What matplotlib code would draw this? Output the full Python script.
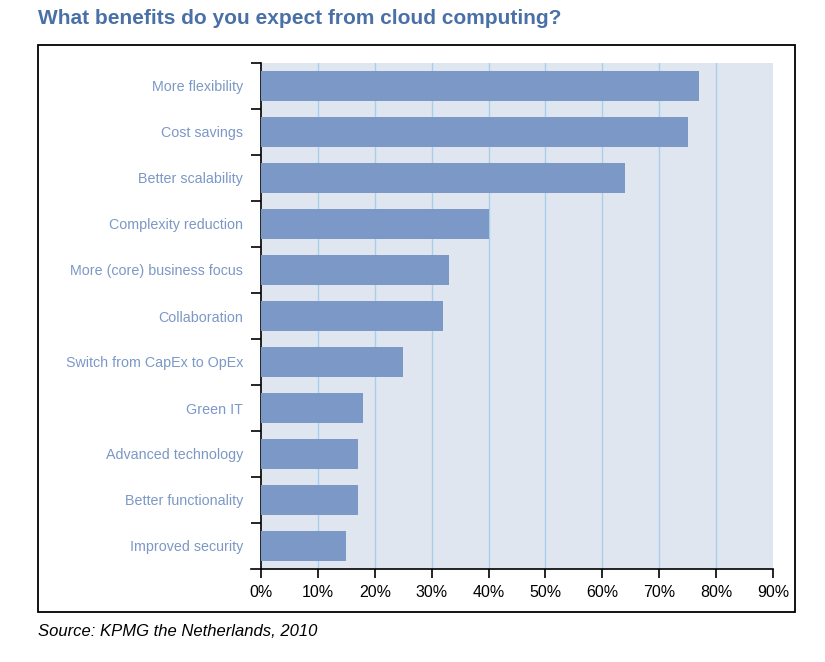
import matplotlib.pyplot as plt
import matplotlib.patches as mpatches
import numpy as np

categories = [
    "More flexibility",
    "Cost savings",
    "Better scalability",
    "Complexity reduction",
    "More (core) business focus",
    "Collaboration",
    "Switch from CapEx to OpEx",
    "Green IT",
    "Advanced technology",
    "Better functionality",
    "Improved security",
]
values = [77, 75, 64, 40, 33, 32, 25, 18, 17, 17, 15]
xticks = [0, 10, 20, 30, 40, 50, 60, 70, 80, 90]
xtick_labels = [f"{t}%" for t in xticks]

bar_color = "#7b98c6"
label_color = "#7b98c6"
bg_color = "#dfe6f0"
grid_color = "#a9cdea"
title_color = "#4a70a8"
font = ["Liberation Sans", "DejaVu Sans"]

fig = plt.figure(figsize=(8.25, 6.62), dpi=100)

# frame around the chart
fig.patches.append(mpatches.Rectangle((38 / 825, 1 - 612 / 662), 757 / 825, 567 / 662,
                                      transform=fig.transFigure, fill=False,
                                      edgecolor="black", linewidth=1.3))

ax = fig.add_axes([261 / 825, 1 - 569 / 662, 512 / 825, 506 / 662])
ax.set_facecolor(bg_color)

y = np.arange(len(categories))
ax.barh(y, values, height=0.65, color=bar_color, zorder=3)
ax.set_ylim(len(categories) - 0.5, -0.5)
ax.set_xlim(0, 90)

ax.set_xticks(xticks)
ax.set_xticklabels(xtick_labels, family=font, fontsize=11.5, color="black")
ax.tick_params(axis="x", length=6.5, width=1.2, pad=5, direction="out")
for t in xticks[1:-1]:
    ax.axvline(t, color=grid_color, linewidth=1, zorder=1)

ax.set_yticks(y)
ax.set_yticklabels(categories, family=font, fontsize=10.3, color=label_color)
ax.tick_params(axis="y", length=0, pad=13)
ax.set_yticks(np.arange(-0.5, len(categories) - 0.5, 1), minor=True)
ax.tick_params(axis="y", which="minor", length=7, width=1.2, direction="out")

for s in ["top", "right"]:
    ax.spines[s].set_visible(False)
ax.spines["left"].set_linewidth(1.2)
ax.spines["bottom"].set_linewidth(1.2)
# small extension of bottom axis line to the left
ax.plot([-10 / 512, 0], [0, 0], transform=ax.transAxes, color="black",
        linewidth=1.2, clip_on=False)

fig.text(38 / 825, 1 - 19 / 662, "What benefits do you expect from cloud computing?",
         fontsize=15, fontweight="bold", color=title_color, family=font, va="center")
fig.text(38 / 825, 1 - 632 / 662, "Source: KPMG the Netherlands, 2010",
         fontsize=12, style="italic", color="black", family=font, va="center")

fig.savefig("out.png", dpi=100)
